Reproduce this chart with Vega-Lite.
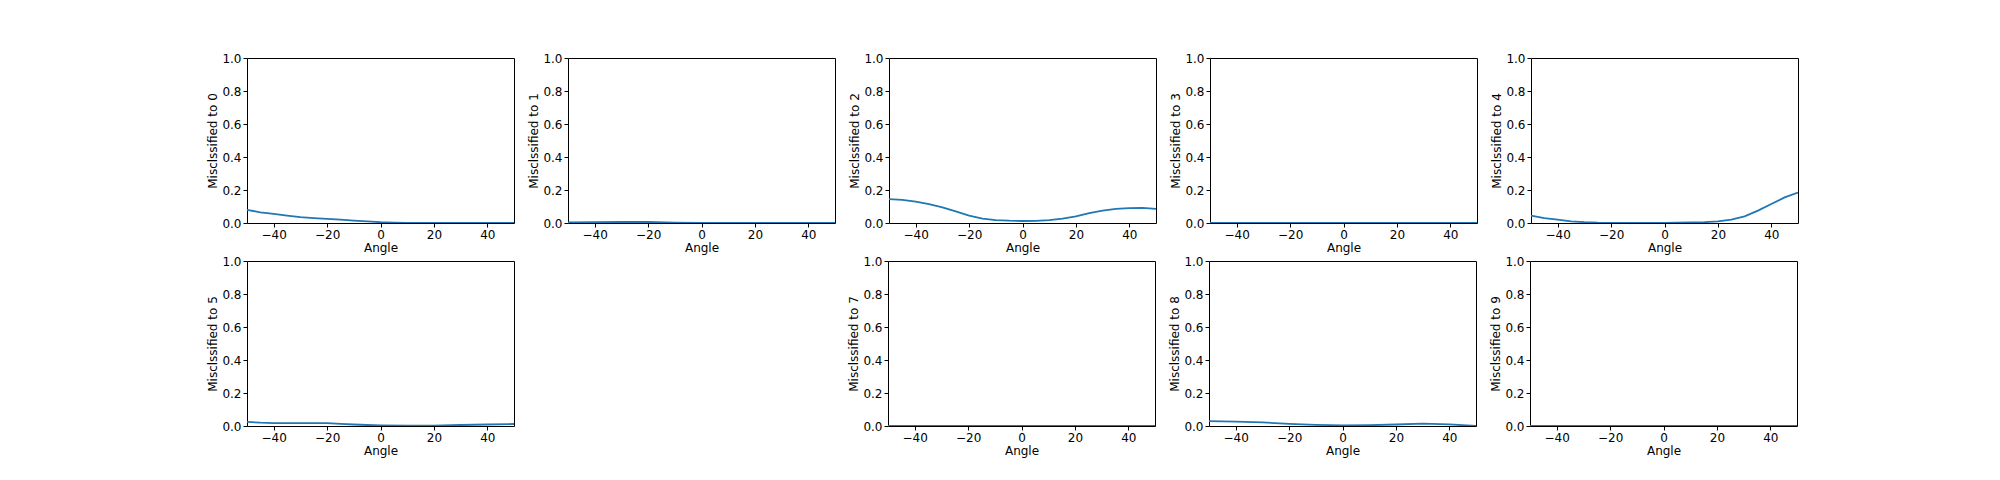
{
"$schema":"https://vega.github.io/schema/vega-lite/v6.json",
"padding":{"left":206,"top":51,"right":5,"bottom":5},
"background":"white",
"config":{"view":{"stroke":"black","strokeWidth":1},"font":"DejaVu Sans",
"axis":{"grid":false,"domain":false,"tickColor":"black","labelColor":"black","titleColor":"black","labelFontSize":12,"titleFontSize":12,"titleFontWeight":"normal","tickSize":4,"labelPadding":2,"titlePadding":2},
"line":{"color":"#1f77b4","strokeWidth":1.8}},
"datasets":{"d":[
{"p":"0","a":-50,"v":0.08},{"p":"0","a":-45,"v":0.065},{"p":"0","a":-40,"v":0.055},{"p":"0","a":-35,"v":0.045},{"p":"0","a":-30,"v":0.035},{"p":"0","a":-25,"v":0.03},{"p":"0","a":-20,"v":0.025},{"p":"0","a":-15,"v":0.02},{"p":"0","a":-10,"v":0.015},{"p":"0","a":-5,"v":0.01},{"p":"0","a":0,"v":0.005},{"p":"0","a":5,"v":0.002},{"p":"0","a":10,"v":0},{"p":"0","a":15,"v":0},{"p":"0","a":20,"v":0},{"p":"0","a":25,"v":0},{"p":"0","a":30,"v":0},{"p":"0","a":35,"v":0},{"p":"0","a":40,"v":0},{"p":"0","a":45,"v":0},{"p":"0","a":50,"v":0},
{"p":"1","a":-50,"v":0.004},{"p":"1","a":-40,"v":0.005},{"p":"1","a":-30,"v":0.006},{"p":"1","a":-20,"v":0.006},{"p":"1","a":-10,"v":0.002},{"p":"1","a":0,"v":0},{"p":"1","a":10,"v":0},{"p":"1","a":20,"v":0},{"p":"1","a":30,"v":0},{"p":"1","a":40,"v":0},{"p":"1","a":50,"v":0},
{"p":"2","a":-50,"v":0.145},{"p":"2","a":-45,"v":0.14},{"p":"2","a":-40,"v":0.13},{"p":"2","a":-35,"v":0.115},{"p":"2","a":-30,"v":0.095},{"p":"2","a":-25,"v":0.07},{"p":"2","a":-20,"v":0.045},{"p":"2","a":-15,"v":0.027},{"p":"2","a":-10,"v":0.018},{"p":"2","a":-5,"v":0.014},{"p":"2","a":0,"v":0.012},{"p":"2","a":5,"v":0.013},{"p":"2","a":10,"v":0.017},{"p":"2","a":15,"v":0.026},{"p":"2","a":20,"v":0.04},{"p":"2","a":25,"v":0.06},{"p":"2","a":30,"v":0.075},{"p":"2","a":35,"v":0.085},{"p":"2","a":40,"v":0.09},{"p":"2","a":45,"v":0.092},{"p":"2","a":50,"v":0.085},
{"p":"3","a":-50,"v":0},{"p":"3","a":50,"v":0},
{"p":"4","a":-50,"v":0.045},{"p":"4","a":-45,"v":0.03},{"p":"4","a":-40,"v":0.02},{"p":"4","a":-35,"v":0.01},{"p":"4","a":-30,"v":0.005},{"p":"4","a":-25,"v":0.002},{"p":"4","a":-20,"v":0.001},{"p":"4","a":-10,"v":0.001},{"p":"4","a":0,"v":0.001},{"p":"4","a":10,"v":0.003},{"p":"4","a":15,"v":0.005},{"p":"4","a":20,"v":0.01},{"p":"4","a":25,"v":0.02},{"p":"4","a":30,"v":0.04},{"p":"4","a":35,"v":0.075},{"p":"4","a":40,"v":0.115},{"p":"4","a":45,"v":0.155},{"p":"4","a":50,"v":0.185},
{"p":"5","a":-50,"v":0.025},{"p":"5","a":-45,"v":0.02},{"p":"5","a":-40,"v":0.018},{"p":"5","a":-30,"v":0.018},{"p":"5","a":-20,"v":0.017},{"p":"5","a":-15,"v":0.013},{"p":"5","a":-10,"v":0.009},{"p":"5","a":-5,"v":0.006},{"p":"5","a":0,"v":0.004},{"p":"5","a":10,"v":0.002},{"p":"5","a":20,"v":0.002},{"p":"5","a":30,"v":0.006},{"p":"5","a":40,"v":0.009},{"p":"5","a":50,"v":0.012},
{"p":"7","a":-50,"v":0},{"p":"7","a":50,"v":0},
{"p":"8","a":-50,"v":0.03},{"p":"8","a":-40,"v":0.027},{"p":"8","a":-30,"v":0.022},{"p":"8","a":-20,"v":0.013},{"p":"8","a":-10,"v":0.007},{"p":"8","a":0,"v":0.004},{"p":"8","a":10,"v":0.005},{"p":"8","a":20,"v":0.009},{"p":"8","a":30,"v":0.014},{"p":"8","a":40,"v":0.01},{"p":"8","a":50,"v":0},
{"p":"9","a":-50,"v":0},{"p":"9","a":50,"v":0}
]},
"data":{"name":"d"},
"spacing":0,
"vconcat":[
{"spacing":12,"hconcat":[
{"width":267,"height":165,"transform":[{"filter":"datum.p=='0'"}],"mark":{"type":"line","clip":true},"encoding":{"x":{"field":"a","type":"quantitative","scale":{"domain":[-50,50],"nice":false},"axis":{"values":[-40,-20,0,20,40]},"title":"Angle"},"y":{"field":"v","type":"quantitative","scale":{"domain":[0,1]},"axis":{"values":[0,0.2,0.4,0.6,0.8,1],"format":".1f"},"title":"Misclssified to 0"}}},
{"width":267,"height":165,"transform":[{"filter":"datum.p=='1'"}],"mark":{"type":"line","clip":true},"encoding":{"x":{"field":"a","type":"quantitative","scale":{"domain":[-50,50],"nice":false},"axis":{"values":[-40,-20,0,20,40]},"title":"Angle"},"y":{"field":"v","type":"quantitative","scale":{"domain":[0,1]},"axis":{"values":[0,0.2,0.4,0.6,0.8,1],"format":".1f"},"title":"Misclssified to 1"}}},
{"width":267,"height":165,"transform":[{"filter":"datum.p=='2'"}],"mark":{"type":"line","clip":true},"encoding":{"x":{"field":"a","type":"quantitative","scale":{"domain":[-50,50],"nice":false},"axis":{"values":[-40,-20,0,20,40]},"title":"Angle"},"y":{"field":"v","type":"quantitative","scale":{"domain":[0,1]},"axis":{"values":[0,0.2,0.4,0.6,0.8,1],"format":".1f"},"title":"Misclssified to 2"}}},
{"width":267,"height":165,"transform":[{"filter":"datum.p=='3'"}],"mark":{"type":"line","clip":true},"encoding":{"x":{"field":"a","type":"quantitative","scale":{"domain":[-50,50],"nice":false},"axis":{"values":[-40,-20,0,20,40]},"title":"Angle"},"y":{"field":"v","type":"quantitative","scale":{"domain":[0,1]},"axis":{"values":[0,0.2,0.4,0.6,0.8,1],"format":".1f"},"title":"Misclssified to 3"}}},
{"width":267,"height":165,"transform":[{"filter":"datum.p=='4'"}],"mark":{"type":"line","clip":true},"encoding":{"x":{"field":"a","type":"quantitative","scale":{"domain":[-50,50],"nice":false},"axis":{"values":[-40,-20,0,20,40]},"title":"Angle"},"y":{"field":"v","type":"quantitative","scale":{"domain":[0,1]},"axis":{"values":[0,0.2,0.4,0.6,0.8,1],"format":".1f"},"title":"Misclssified to 4"}}}
]},
{"spacing":12,"hconcat":[
{"width":267,"height":165,"transform":[{"filter":"datum.p=='5'"}],"mark":{"type":"line","clip":true},"encoding":{"x":{"field":"a","type":"quantitative","scale":{"domain":[-50,50],"nice":false},"axis":{"values":[-40,-20,0,20,40]},"title":"Angle"},"y":{"field":"v","type":"quantitative","scale":{"domain":[0,1]},"axis":{"values":[0,0.2,0.4,0.6,0.8,1],"format":".1f"},"title":"Misclssified to 5"}}},
{"width":267,"height":165,"view":{"stroke":null},"transform":[{"filter":"datum.p=='3'"}],"mark":{"type":"line","opacity":0},"encoding":{"x":{"field":"a","type":"quantitative","scale":{"domain":[-50,50],"nice":false},"axis":{"values":[-40,-20,0,20,40],"labelColor":"transparent","tickColor":"transparent","titleColor":"transparent"},"title":"Angle"},"y":{"field":"v","type":"quantitative","scale":{"domain":[0,1]},"axis":{"values":[0,0.2,0.4,0.6,0.8,1],"format":".1f","labelColor":"transparent","tickColor":"transparent","titleColor":"transparent"},"title":"Misclssified to 6"}}},
{"width":267,"height":165,"transform":[{"filter":"datum.p=='7'"}],"mark":{"type":"line","clip":true},"encoding":{"x":{"field":"a","type":"quantitative","scale":{"domain":[-50,50],"nice":false},"axis":{"values":[-40,-20,0,20,40]},"title":"Angle"},"y":{"field":"v","type":"quantitative","scale":{"domain":[0,1]},"axis":{"values":[0,0.2,0.4,0.6,0.8,1],"format":".1f"},"title":"Misclssified to 7"}}},
{"width":267,"height":165,"transform":[{"filter":"datum.p=='8'"}],"mark":{"type":"line","clip":true},"encoding":{"x":{"field":"a","type":"quantitative","scale":{"domain":[-50,50],"nice":false},"axis":{"values":[-40,-20,0,20,40]},"title":"Angle"},"y":{"field":"v","type":"quantitative","scale":{"domain":[0,1]},"axis":{"values":[0,0.2,0.4,0.6,0.8,1],"format":".1f"},"title":"Misclssified to 8"}}},
{"width":267,"height":165,"transform":[{"filter":"datum.p=='9'"}],"mark":{"type":"line","clip":true},"encoding":{"x":{"field":"a","type":"quantitative","scale":{"domain":[-50,50],"nice":false},"axis":{"values":[-40,-20,0,20,40]},"title":"Angle"},"y":{"field":"v","type":"quantitative","scale":{"domain":[0,1]},"axis":{"values":[0,0.2,0.4,0.6,0.8,1],"format":".1f"},"title":"Misclssified to 9"}}}
]}
]
}
